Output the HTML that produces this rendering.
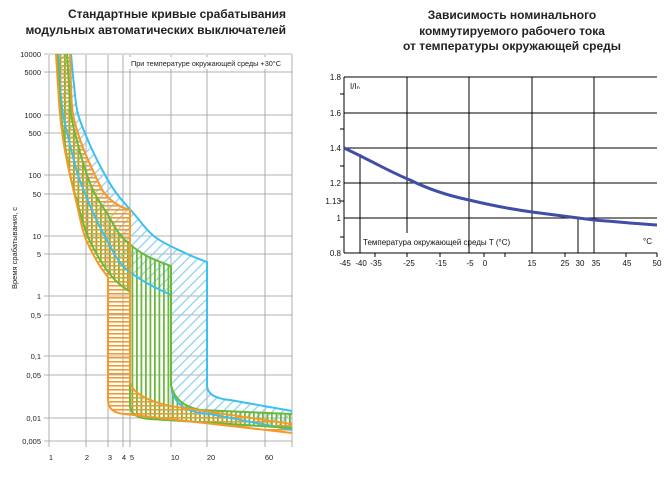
<!DOCTYPE html>
<html><head><meta charset="utf-8"><style>
html,body{margin:0;padding:0;background:#fff}
svg{display:block;font-family:"Liberation Sans",sans-serif}
</style></head><body>
<svg id="s" width="668" height="479" viewBox="0 0 668 479" xmlns="http://www.w3.org/2000/svg">
<defs>
<pattern id="ph" width="6" height="4" patternUnits="userSpaceOnUse"><rect x="0" y="1" width="6" height="1.6" fill="#f39a2a"/></pattern>
<pattern id="pv" width="4.5" height="6" patternUnits="userSpaceOnUse"><rect x="1" y="0" width="1.8" height="6" fill="#6ab93a"/></pattern>
<pattern id="pd" width="7" height="7" patternUnits="userSpaceOnUse" patternTransform="rotate(-45)"><rect x="0" y="0" width="7" height="1.3" fill="#8fd3f2"/></pattern>
</defs>
<g font-weight="bold" font-size="12" fill="#222">
<text x="286" y="18" text-anchor="end">Стандартные кривые срабатывания</text>
<text x="286" y="34" text-anchor="end">модульных автоматических выключателей</text>
<text x="512" y="19" text-anchor="middle">Зависимость номинального</text>
<text x="512" y="35" text-anchor="middle">коммутируемого рабочего тока</text>
<text x="512" y="50" text-anchor="middle">от температуры окружающей среды</text>
</g>
<g stroke="#9a9a9a" stroke-width="0.8">
<line x1="49" y1="54" x2="49" y2="447" stroke="#ccc" stroke-width="1.5"/>
<line x1="86" y1="54" x2="86" y2="447"/><line x1="108" y1="54" x2="108" y2="447"/>
<line x1="123" y1="54" x2="123" y2="447"/><line x1="130" y1="54" x2="130" y2="447"/>
<line x1="171" y1="54" x2="171" y2="447"/><line x1="207" y1="54" x2="207" y2="447"/>
<line x1="265" y1="54" x2="265" y2="447"/><line x1="292" y1="54" x2="292" y2="447"/>
<line x1="44" y1="54" x2="292" y2="54" stroke="#ddd" stroke-width="2"/>
<line x1="44" y1="72" x2="292" y2="72"/><line x1="44" y1="115" x2="292" y2="115"/>
<line x1="44" y1="133" x2="292" y2="133"/><line x1="44" y1="175" x2="292" y2="175"/>
<line x1="44" y1="194" x2="292" y2="194"/><line x1="44" y1="236" x2="292" y2="236"/>
<line x1="44" y1="254" x2="292" y2="254"/><line x1="44" y1="296" x2="292" y2="296"/>
<line x1="44" y1="315" x2="292" y2="315"/><line x1="44" y1="356" x2="292" y2="356"/>
<line x1="44" y1="375" x2="292" y2="375"/><line x1="44" y1="418" x2="292" y2="418"/>
<line x1="44" y1="441" x2="292" y2="441"/>
</g>
<g font-size="7.5" fill="#222" text-anchor="end">
<text x="41" y="57">10000</text><text x="41" y="75">5000</text><text x="41" y="118">1000</text>
<text x="41" y="136">500</text><text x="41" y="178">100</text><text x="41" y="197">50</text>
<text x="41" y="239">10</text><text x="41" y="257">5</text><text x="41" y="299">1</text>
<text x="41" y="318">0,5</text><text x="41" y="359">0,1</text><text x="41" y="378">0,05</text>
<text x="41" y="421">0,01</text><text x="41" y="444">0,005</text>
</g>
<g font-size="7.5" fill="#222" text-anchor="middle">
<text x="51" y="460">1</text><text x="87" y="460">2</text><text x="110" y="460">3</text>
<text x="124" y="460">4</text><text x="132" y="460">5</text><text x="175" y="460">10</text>
<text x="211" y="460">20</text><text x="269" y="460">60</text>
</g>
<text transform="translate(17,248) rotate(-90)" font-size="7.5" text-anchor="middle" fill="#222">Время срабатывания, с</text>
<rect x="128" y="57" width="160" height="12" fill="#fff"/>
<text x="131" y="66" font-size="7.3" fill="#222">При температуре окружающей среды +30°C</text>
<g id="bands"></g>
<g stroke="#000" stroke-width="1">
<line x1="344" y1="77" x2="657" y2="77"/>
<line x1="344" y1="77" x2="344" y2="253"/>
<line x1="344" y1="253" x2="657" y2="253"/>
<line x1="344" y1="113" x2="657" y2="113"/><line x1="344" y1="148" x2="657" y2="148"/>
<line x1="344" y1="183" x2="657" y2="183"/><line x1="344" y1="218" x2="657" y2="218"/>
<line x1="407" y1="77" x2="407" y2="233"/><line x1="469" y1="77" x2="469" y2="253"/>
<line x1="532" y1="77" x2="532" y2="253"/><line x1="594" y1="77" x2="594" y2="253"/>
<line x1="360" y1="154" x2="360" y2="253"/><line x1="578" y1="218" x2="578" y2="253"/>
<line x1="340" y1="94" x2="344" y2="94"/><line x1="340" y1="129" x2="344" y2="129"/>
<line x1="340" y1="166" x2="344" y2="166"/><line x1="340" y1="201" x2="344" y2="201"/>
<line x1="340" y1="237" x2="344" y2="237"/>
<line x1="375" y1="253" x2="375" y2="257"/><line x1="407" y1="253" x2="407" y2="257"/>
<line x1="440" y1="253" x2="440" y2="257"/><line x1="484" y1="253" x2="484" y2="257"/>
<line x1="505" y1="253" x2="505" y2="257"/><line x1="565" y1="253" x2="565" y2="257"/>
<line x1="626" y1="253" x2="626" y2="257"/><line x1="657" y1="253" x2="657" y2="257"/>
</g>
<path d="M344,148 C370,160 390,172 410,180 C430,190 450,196 469,200 C490,205 510,209 532,212 C555,215 570,217 594,220 C620,222 640,224 657,225" fill="none" stroke="#3f4fa8" stroke-width="3"/>
<g font-size="8" fill="#111" text-anchor="end">
<text x="341" y="80">1.8</text><text x="341" y="116">1.6</text><text x="341" y="151">1.4</text>
<text x="341" y="186">1.2</text><text x="341" y="204">1.13</text><text x="341" y="221">1</text>
<text x="341" y="256">0.8</text>
</g>
<g font-size="8" fill="#111" text-anchor="middle">
<text x="345" y="266">-45</text><text x="361" y="266">-40</text><text x="376" y="266">-35</text>
<text x="409" y="266">-25</text><text x="441" y="266">-15</text><text x="470" y="266">-5</text>
<text x="485" y="266">0</text><text x="532" y="266">15</text><text x="565" y="266">25</text>
<text x="580" y="266">30</text><text x="596" y="266">35</text><text x="627" y="266">45</text>
<text x="657" y="266">50</text>
</g>
<text x="350" y="89" font-size="8" fill="#111">I/Iₙ</text>
<text x="363" y="245" font-size="8" fill="#111">Температура окружающей среды T (°C)</text>
<text x="643" y="244" font-size="8" fill="#111">°C</text>
</svg>
<script>
(function(){
function cr(p){var d="M"+p[0][0]+","+p[0][1];for(var i=0;i<p.length-1;i++){var a=p[i-1]||p[i],b=p[i],c=p[i+1],e=p[i+2]||c;
d+=" C"+(b[0]+(c[0]-a[0])/6).toFixed(1)+","+(b[1]+(c[1]-a[1])/6).toFixed(1)+" "+(c[0]-(e[0]-b[0])/6).toFixed(1)+","+(c[1]-(e[1]-b[1])/6).toFixed(1)+" "+c[0]+","+c[1];}return d;}
var bands=[
{pat:"pd",col:"#3cc0ee",
R:[[71,54],[74,85],[78,114],[90,145],[105,175],[117,194],[135,215],[155,237],[185,253],[207,262]],Rt:" L207,385 Q207,398 230,400 L292,411",
L:[[58,54],[60,85],[63,114],[70,145],[78,175],[86,196],[95,217],[108,242],[122,265],[145,282],[171,295]],Lt:" L171,382 Q171,412 210,414 L292,430"},
{pat:"pv",col:"#6ab93a",
R:[[67,54],[69,85],[71,114],[78,145],[87,175],[95,194],[108,215],[122,237],[145,255],[171,266]],Rt:" L171,385 Q175,405 200,410 L292,414",
L:[[57,54],[59,85],[61,114],[65,145],[70,175],[78,205],[88,237],[102,263],[115,280],[130,292]],Lt:" L130,405 Q130,418 150,419 L292,428"},
{pat:"ph",col:"#f39a2a",
R:[[70,54],[71,85],[73,114],[82,145],[95,175],[105,194],[118,205],[130,210]],Rt:" L130,383 Q135,398 170,406 L292,424",
L:[[56,54],[58,85],[60,114],[64,145],[70,175],[77,205],[85,237],[98,263],[108,277]],Lt:" L108,400 Q108,413 125,414 L292,433"}];
var g=document.getElementById("bands"),h="",o="";
bands.forEach(function(b){
var r=cr(b.R)+b.Rt;
var lr=b.L.slice().reverse();
// left reversed: need reversed tail
var tl=b.Lt.trim().split(/ (?=[LQ])/);
var ld=cr(b.L)+b.Lt;
// build polygon using clip: fill region between curves via path union trick
var poly=r+" L292,"+(b.Lt.match(/L292,(\d+)/)[1])+" "+rev(b)+" Z";
h+='<path d="'+poly+'" fill="url(#'+b.pat+')"/>';
o+='<path d="'+r+'" fill="none" stroke="'+b.col+'" stroke-width="2"/><path d="'+ld+'" fill="none" stroke="'+b.col+'" stroke-width="2"/>';
});
function rev(b){
// reversed left tail: parse " L x,yv Q cx,cy ex,ey L 292,yend"
var m=b.Lt.match(/L(\d+),(\d+) Q(\d+),(\d+) (\d+),(\d+) L292,(\d+)/);
var last=b.L[b.L.length-1];
var s="L"+m[5]+","+m[6]+" Q"+m[3]+","+m[4]+" "+m[1]+","+m[2]+" L"+last[0]+","+last[1];
var lr=b.L.slice().reverse();
s+=cr(lr).replace(/^M[^ ]+/,"");
return s;}
g.innerHTML=h+o;
})();
</script>
</body></html>
